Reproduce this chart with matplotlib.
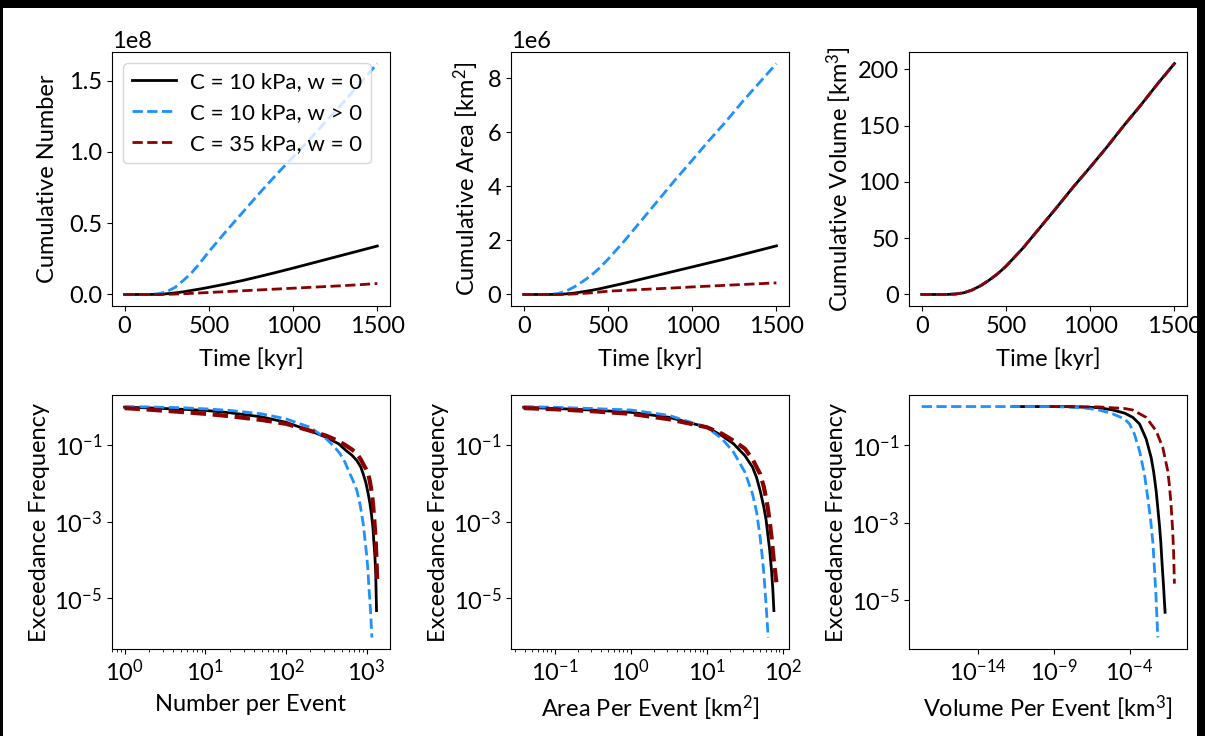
import numpy as np
import matplotlib
matplotlib.use("Agg")
import matplotlib.pyplot as plt
from matplotlib.patches import Rectangle
from matplotlib.ticker import LogLocator, NullLocator

plt.rcParams['font.family'] = ['Lato', 'DejaVu Sans']
plt.rcParams['font.size'] = 17
plt.rcParams['mathtext.fontset'] = 'custom'
plt.rcParams['mathtext.rm'] = 'Lato'
plt.rcParams['mathtext.it'] = 'Lato:italic'
plt.rcParams['mathtext.bf'] = 'Lato:bold'

# --- cumulative curves vs time [kyr] ---
time_kyr = [0, 100, 150, 200, 250, 300, 350, 400, 450, 500, 600, 700, 800, 900,
            1000, 1100, 1200, 1300, 1400, 1500]

num_c10_w0 = [0, 0, 0, 0.001, 0.005, 0.011, 0.019, 0.029, 0.039, 0.05, 0.073, 0.098, 0.126,
              0.155, 0.185, 0.216, 0.247, 0.278, 0.309, 0.34]
num_c10_wp = [0, 0, 0.001, 0.005, 0.02, 0.05, 0.1, 0.155, 0.225, 0.30, 0.44, 0.575, 0.71,
              0.84, 0.965, 1.09, 1.22, 1.35, 1.485, 1.62]
num_c35_w0 = [0, 0, 0, 0, 0.001, 0.003, 0.005, 0.008, 0.011, 0.014, 0.02, 0.026, 0.032,
              0.038, 0.044, 0.05, 0.056, 0.062, 0.069, 0.077]

area_c10_w0 = [0, 0, 0, 0.005, 0.02, 0.05, 0.1, 0.15, 0.21, 0.28, 0.42, 0.57, 0.72,
               0.87, 1.02, 1.17, 1.32, 1.48, 1.64, 1.8]
area_c10_wp = [0, 0, 0.01, 0.03, 0.12, 0.28, 0.48, 0.7, 0.98, 1.3, 2.0, 2.75, 3.5,
               4.25, 4.97, 5.7, 6.4, 7.15, 7.85, 8.55]
area_c35_w0 = [0, 0, 0, 0, 0.005, 0.02, 0.04, 0.06, 0.09, 0.12, 0.155, 0.185, 0.215,
               0.245, 0.28, 0.31, 0.34, 0.37, 0.4, 0.43]

vol_all = [0, 0, 0.05, 0.4, 1.5, 4.0, 7.8, 12.7, 18.3, 25, 41, 59, 77,
           95.5, 113, 131, 150, 168, 187, 205]

# --- exceedance frequency vs size per event ---
n_x_c10_w0 = [1, 2, 5, 10, 20, 50, 100, 200, 316, 450, 560, 660, 760, 850, 910, 980,
              1050, 1100, 1150, 1200, 1230, 1270, 1300, 1330]
n_y_c10_w0 = [0.962, 0.923, 0.851, 0.794, 0.692, 0.537, 0.389, 0.234, 0.158, 0.107, 0.0708,
              0.0537, 0.0389, 0.0263, 0.0174, 0.0105, 0.00525, 0.00302, 0.00158, 7.08e-4,
              3.16e-4, 1.26e-4, 4.27e-5, 4.79e-6]
n_x_c10_wp = [1, 2, 5, 10, 20, 50, 100, 200, 316, 400, 470, 540, 610, 680, 760, 840, 910,
              1000, 1040, 1070, 1120, 1165]
n_y_c10_wp = [1.0, 0.977, 0.933, 0.871, 0.794, 0.646, 0.479, 0.288, 0.145, 0.0891, 0.0589,
              0.0355, 0.0195, 0.0117, 0.00646, 0.00251, 8.71e-4, 1.45e-4, 5.62e-5, 1.95e-5,
              5.01e-6, 9.55e-7]
n_x_c35_w0 = [1, 2, 5, 10, 20, 50, 100, 200, 316, 450, 560, 660, 760, 850, 910, 980, 1050,
              1100, 1150, 1200, 1250, 1290, 1320, 1360]
n_y_c35_w0 = [0.912, 0.832, 0.724, 0.646, 0.562, 0.447, 0.355, 0.234, 0.174, 0.126, 0.0955,
              0.0759, 0.0589, 0.0417, 0.0316, 0.024, 0.0174, 0.0112, 0.00646, 0.00316,
              0.00107, 3.98e-4, 1.45e-4, 2.34e-5]

a_x_c10_w0 = [0.039, 0.1, 0.3, 1, 3.16, 10, 15.8, 22.4, 31.6, 39.8, 45, 50.1, 56.2, 60,
              63.1, 67, 70.8, 73.5, 76]
a_y_c10_w0 = [0.955, 0.891, 0.813, 0.708, 0.525, 0.288, 0.174, 0.107, 0.0525, 0.0263,
              0.0141, 0.00646, 0.00234, 0.00112, 4.79e-4, 1.78e-4, 5.25e-5, 1.78e-5, 4.79e-6]
a_x_c10_wp = [0.039, 0.1, 0.3, 1, 3.16, 10, 15.8, 22.4, 31.6, 39.8, 45, 50.1, 53, 56.2,
              60.3, 64]
a_y_c10_wp = [1.0, 0.955, 0.891, 0.813, 0.589, 0.288, 0.145, 0.0646, 0.0195, 0.00525,
              0.00178, 3.89e-4, 1.41e-4, 4.27e-5, 5.89e-6, 9.55e-7]
a_x_c35_w0 = [0.039, 0.1, 0.3, 1, 3.16, 10, 15.8, 22.4, 31.6, 39.8, 50.1, 56.2, 63.1, 67,
              70.8, 75.9, 82]
a_y_c35_w0 = [0.912, 0.851, 0.759, 0.646, 0.468, 0.288, 0.195, 0.129, 0.0794, 0.0427,
              0.0174, 0.00794, 0.00234, 0.001, 3.89e-4, 9.55e-5, 2.63e-5]

v_x_c10_w0 = [2e-12, 1e-8, 1e-6, 7.9e-6, 4.7e-5, 1.66e-4, 4.6e-4, 1.26e-3, 2.7e-3,
              3.98e-3, 5.8e-3, 9.5e-3, 1.17e-2, 1.4e-2, 1.78e-2, 2.24e-2]
v_y_c10_w0 = [1.0, 1.0, 0.933, 0.813, 0.676, 0.525, 0.355, 0.145, 0.0479, 0.02, 0.00646,
              8.7e-4, 3.16e-4, 9.55e-5, 2.24e-5, 4.79e-6]
v_x_c10_wp = [1.8e-18, 1e-9, 7.9e-8, 1e-6, 7.9e-6, 4.7e-5, 1e-4, 2.1e-4, 4.6e-4, 9.8e-4,
              1.62e-3, 2.51e-3, 3.47e-3, 4.47e-3, 5.62e-3, 7.41e-3]
v_y_c10_wp = [1.0, 1.0, 0.933, 0.813, 0.646, 0.479, 0.355, 0.195, 0.0708, 0.0174, 0.00427,
              0.00112, 3.16e-4, 6.31e-5, 1.26e-5, 1.07e-6]
v_x_c35_w0 = [5.4e-10, 1e-6, 4.7e-5, 1.66e-4, 1.26e-3, 5.8e-3, 1.58e-2, 3.4e-2, 4.37e-2,
              5.6e-2, 7.2e-2, 8.3e-2, 9.3e-2]
v_y_c35_w0 = [1.0, 0.977, 0.891, 0.813, 0.525, 0.234, 0.0871, 0.0214, 0.00891, 0.00288,
              5.89e-4, 1.58e-4, 2.63e-5]

labels = ['C = 10 kPa, w = 0', 'C = 10 kPa, w > 0', 'C = 35 kPa, w = 0']
colors = ['black', 'dodgerblue', 'darkred']

fig = plt.figure(figsize=(12.05, 7.36), dpi=100)
fig.patch.set_facecolor('black')
fig.patches.append(Rectangle((3 / 1205, 0), 1194 / 1205, 728 / 736,
                             transform=fig.transFigure, facecolor='white',
                             edgecolor='none', zorder=-1))

lefts = [0.0929, 0.4241, 0.7544]
bottoms = [0.5842, 0.1182]
w, h = 0.2307, 0.3451
axs = [[fig.add_axes([l, b, w, h]) for l in lefts] for b in bottoms]

# Top row
ax = axs[0][0]
ax.plot(time_kyr, np.array(num_c10_w0) * 1e8, color=colors[0], lw=2, label=labels[0])
ax.plot(time_kyr, np.array(num_c10_wp) * 1e8, color=colors[1], lw=2, ls='--', label=labels[1])
ax.plot(time_kyr, np.array(num_c35_w0) * 1e8, color=colors[2], lw=2, ls='--', label=labels[2])
ax.set_ylabel('Cumulative Number', labelpad=8)
ax.legend(loc='upper left', fontsize=16, handletextpad=0.6)

ax = axs[0][1]
ax.plot(time_kyr, np.array(area_c10_w0) * 1e6, color=colors[0], lw=2)
ax.plot(time_kyr, np.array(area_c10_wp) * 1e6, color=colors[1], lw=2, ls='--')
ax.plot(time_kyr, np.array(area_c35_w0) * 1e6, color=colors[2], lw=2, ls='--')
ax.set_ylabel('Cumulative Area [km$^2$]', labelpad=5)

ax = axs[0][2]
ax.plot(time_kyr, vol_all, color=colors[0], lw=2)
ax.plot(time_kyr, vol_all, color=colors[1], lw=2, ls='--')
ax.plot(time_kyr, vol_all, color=colors[2], lw=2, ls='--')
ax.set_ylabel('Cumulative Volume [km$^3$]', labelpad=3)

for ax in axs[0]:
    ax.set_xlabel('Time [kyr]', labelpad=8)
    ax.set_xticks([0, 500, 1000, 1500])

# Bottom row
ax = axs[1][0]
ax.plot(n_x_c10_w0, n_y_c10_w0, color=colors[0], lw=2)
ax.plot(n_x_c10_wp, n_y_c10_wp, color=colors[1], lw=2, ls='--')
ax.plot(n_x_c35_w0, n_y_c35_w0, color=colors[2], lw=3, ls='--')
ax.set_xlabel('Number per Event', labelpad=6)
ax.set_xscale('log')
ax.set_xticks([1e0, 1e1, 1e2, 1e3])

ax = axs[1][1]
ax.plot(a_x_c10_w0, a_y_c10_w0, color=colors[0], lw=2)
ax.plot(a_x_c10_wp, a_y_c10_wp, color=colors[1], lw=2, ls='--')
ax.plot(a_x_c35_w0, a_y_c35_w0, color=colors[2], lw=3, ls='--')
ax.set_xlabel('Area Per Event [km$^2$]', labelpad=6)
ax.set_xscale('log')
ax.set_xticks([1e-1, 1e0, 1e1, 1e2])

ax = axs[1][2]
ax.plot(v_x_c10_w0, v_y_c10_w0, color=colors[0], lw=2)
ax.plot(v_x_c10_wp, v_y_c10_wp, color=colors[1], lw=2, ls='--')
ax.plot(v_x_c35_w0, v_y_c35_w0, color=colors[2], lw=2, ls='--')
ax.set_xlabel('Volume Per Event [km$^3$]', labelpad=6)
ax.set_xscale('log')
ax.set_xticks([1e-14, 1e-9, 1e-4])
ax.xaxis.set_minor_locator(NullLocator())

for ax in axs[1][:2]:
    ax.xaxis.set_minor_locator(LogLocator(base=10, subs=np.arange(2, 10), numticks=30))

for ax in axs[1]:
    ax.set_yscale('log')
    ax.set_yticks([1e-1, 1e-3, 1e-5])
    ax.yaxis.set_minor_locator(NullLocator())
    ax.set_ylabel('Exceedance Frequency', labelpad=3)

fig.savefig('out.png', dpi=100, facecolor=fig.get_facecolor())
